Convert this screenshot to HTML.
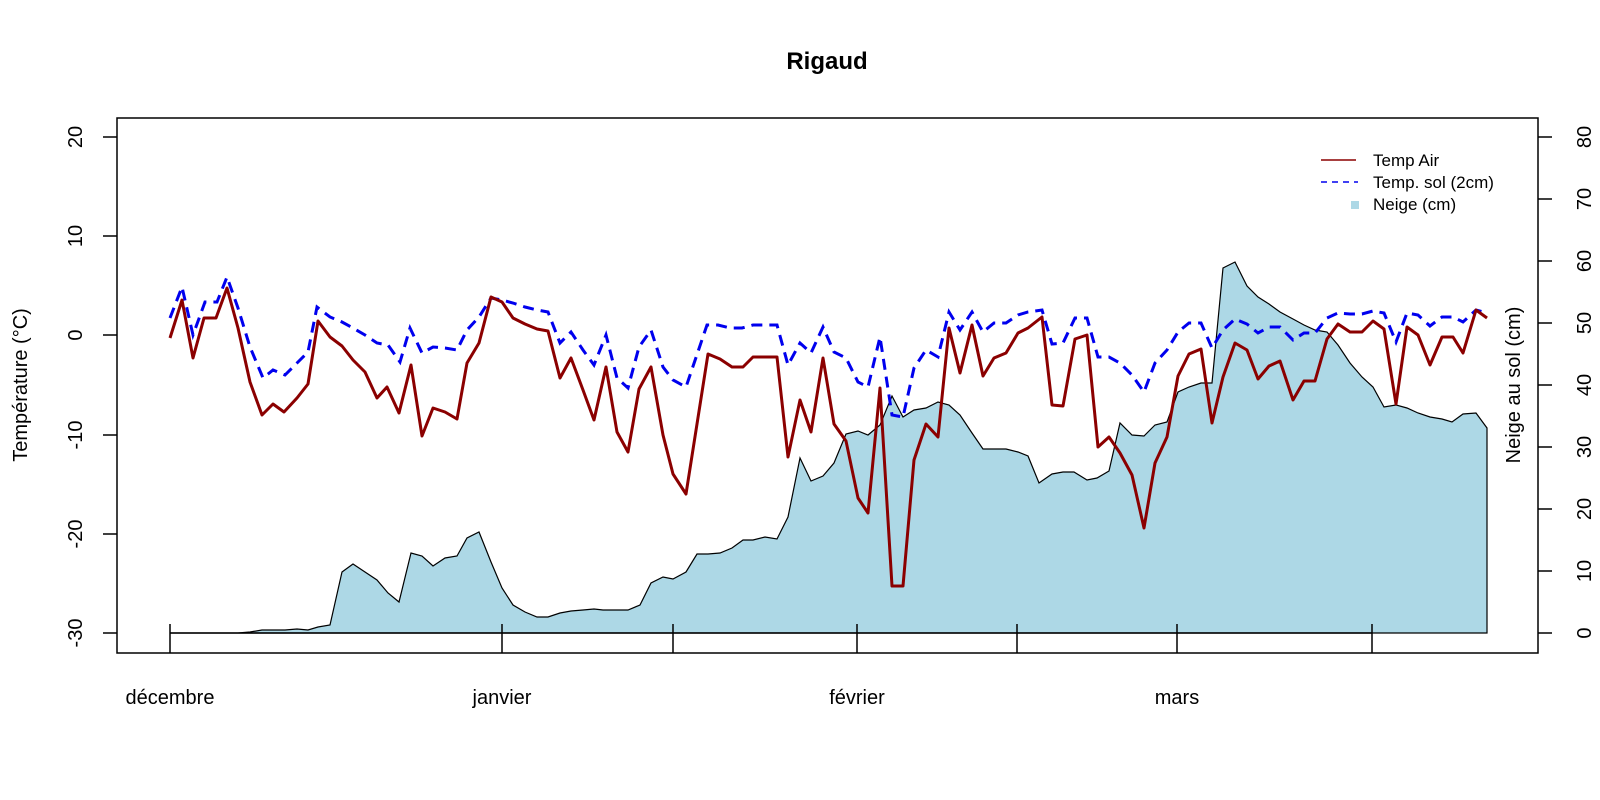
<!DOCTYPE html>
<html><head><meta charset="utf-8"><style>html,body{margin:0;padding:0;background:#fff}svg{display:block}</style></head>
<body>
<svg width="1600" height="800" viewBox="0 0 1600 800" xmlns="http://www.w3.org/2000/svg" font-family="Liberation Sans, Arial, sans-serif">
<rect width="1600" height="800" fill="#fff"/>
<text x="827" y="69" font-size="24" font-weight="bold" text-anchor="middle">Rigaud</text>
<!-- snow -->
<polygon fill="#add8e6" stroke="#000" stroke-width="1.2" points="170,633 182,633 193,633 205,633 217,633 227,633 238,633 250,632 262,630 273,630 285,630 297,629 308,630 318,627 330,625 342,572 353,564 365,572 377,580 388,593 399,602 411,553 422,556 433,566 445,558 457,556 467,538 479,532 491,562 502,588 513,605 525,612 537,617 548,617 560,613 571,611 583,610 594,609 603,610 617,610 628,610 640,605 651,583 663,577 673,579 686,572 697,554 708,554 720,553 732,548 743,540 753,540 765,537 777,539 788,517 800,458 811,481 823,476 834,463 846,434 858,431 868,435 880,425 892,396 903,417 914,410 926,408 938,402 949,405 960,415 972,433 983,449 994,449 1006,449 1018,452 1028,456 1039,483 1052,474 1063,472 1074,472 1087,480 1097,478 1109,471 1120,423 1132,435 1144,436 1155,425 1167,422 1178,392 1189,387 1201,383 1212,383 1223,268 1235,262 1247,286 1258,297 1269,304 1280,312 1293,319 1304,325 1315,330 1327,332 1338,345 1350,363 1362,377 1373,387 1384,407 1396,405 1407,408 1418,413 1430,417 1442,419 1452,422 1463,414 1476,413 1487,428 1487,633"/>
<!-- blue dashed -->
<polyline fill="none" stroke="#0000ee" stroke-width="3" stroke-dasharray="11,7" points="170,318 182,287 193,335 205,302 217,302 227,277 238,308 250,347 263,378 273,370 285,375 297,363 308,352 317,307 330,317 342,322 353,328 365,335 377,343 388,345 400,362 410,328 422,353 433,347 445,348 457,350 467,330 479,317 491,298 502,300 513,303 525,307 537,310 548,312 560,343 571,332 583,350 594,365 606,335 617,378 628,388 639,347 651,330 663,367 673,380 686,387 707,325 718,325 730,328 742,328 753,325 765,325 777,325 788,365 800,343 811,353 823,327 834,352 846,358 858,382 868,387 880,337 892,415 903,417 914,368 926,350 938,357 949,312 960,330 972,312 983,332 994,323 1006,323 1018,315 1028,312 1042,310 1052,344 1063,343 1075,318 1087,318 1098,357 1109,357 1120,363 1132,375 1144,392 1155,363 1167,350 1178,332 1189,323 1201,323 1212,348 1223,330 1235,319 1247,324 1258,333 1269,327 1280,327 1293,340 1304,333 1315,333 1327,318 1338,313 1350,314 1362,314 1373,311 1384,313 1396,342 1407,313 1418,315 1430,326 1442,317 1453,317 1463,322 1476,310 1487,313"/>
<!-- red -->
<polyline fill="none" stroke="#8b0000" stroke-width="3" stroke-linejoin="round" points="170,338 182,300 193,358 204,318 216,318 227,288 238,328 250,382 262,415 273,404 284,412 297,398 308,384 318,321 330,337 342,346 353,360 365,372 377,398 387,387 399,413 411,365 422,436 433,408 445,412 457,419 467,363 479,343 491,297 502,302 513,318 525,324 537,329 548,331 560,378 571,358 583,390 594,420 606,367 617,432 628,452 639,389 651,367 663,435 673,474 686,494 708,354 720,359 732,367 743,367 753,357 765,357 777,357 788,457 800,400 811,432 823,358 834,424 846,441 858,498 868,513 880,388 892,586 903,586 914,460 926,424 938,437 949,328 960,373 972,325 983,376 994,358 1006,353 1018,333 1028,328 1042,317 1052,405 1063,406 1075,339 1087,335 1098,447 1109,437 1120,453 1132,475 1144,528 1155,463 1167,437 1178,376 1189,354 1201,349 1212,423 1223,377 1235,343 1247,350 1258,379 1269,366 1280,361 1293,400 1304,381 1315,381 1327,339 1338,324 1350,332 1362,332 1373,321 1384,329 1396,404 1407,327 1418,335 1430,365 1442,337 1453,337 1463,353 1476,310 1487,318"/>
<!-- frame -->
<rect x="117" y="118" width="1421" height="535" fill="none" stroke="#000" stroke-width="1.5"/>
<!-- bottom axis -->
<g stroke="#000" stroke-width="1.5">
<line x1="170" y1="633" x2="1372" y2="633"/>
<line x1="170" y1="624" x2="170" y2="653"/><line x1="502" y1="624" x2="502" y2="653"/><line x1="673" y1="624" x2="673" y2="653"/><line x1="857" y1="624" x2="857" y2="653"/><line x1="1017" y1="624" x2="1017" y2="653"/><line x1="1177" y1="624" x2="1177" y2="653"/><line x1="1372" y1="624" x2="1372" y2="653"/>
<!-- left ticks -->
<line x1="103" y1="137" x2="117" y2="137"/><line x1="103" y1="236" x2="117" y2="236"/><line x1="103" y1="335" x2="117" y2="335"/><line x1="103" y1="435" x2="117" y2="435"/><line x1="103" y1="534" x2="117" y2="534"/><line x1="103" y1="633" x2="117" y2="633"/>
<!-- right ticks -->
<line x1="1538" y1="137" x2="1552" y2="137"/><line x1="1538" y1="199" x2="1552" y2="199"/><line x1="1538" y1="261" x2="1552" y2="261"/><line x1="1538" y1="323" x2="1552" y2="323"/><line x1="1538" y1="385" x2="1552" y2="385"/><line x1="1538" y1="447" x2="1552" y2="447"/><line x1="1538" y1="509" x2="1552" y2="509"/><line x1="1538" y1="571" x2="1552" y2="571"/><line x1="1538" y1="633" x2="1552" y2="633"/>
</g>
<g font-size="20" text-anchor="middle">
<text x="170" y="704">décembre</text><text x="502" y="704">janvier</text><text x="857" y="704">février</text><text x="1177" y="704">mars</text>
</g>
<g font-size="20" text-anchor="middle">
<text transform="translate(82,137) rotate(-90)">20</text>
<text transform="translate(82,236) rotate(-90)">10</text>
<text transform="translate(82,335) rotate(-90)">0</text>
<text transform="translate(82,435) rotate(-90)">-10</text>
<text transform="translate(82,534) rotate(-90)">-20</text>
<text transform="translate(82,633) rotate(-90)">-30</text>
<text transform="translate(27,385) rotate(-90)">Température (°C)</text>
<text transform="translate(1520,385) rotate(-90)">Neige au sol (cm)</text>
<text transform="translate(1591,137) rotate(-90)">80</text>
<text transform="translate(1591,199) rotate(-90)">70</text>
<text transform="translate(1591,261) rotate(-90)">60</text>
<text transform="translate(1591,323) rotate(-90)">50</text>
<text transform="translate(1591,385) rotate(-90)">40</text>
<text transform="translate(1591,447) rotate(-90)">30</text>
<text transform="translate(1591,509) rotate(-90)">20</text>
<text transform="translate(1591,571) rotate(-90)">10</text>
<text transform="translate(1591,633) rotate(-90)">0</text>
</g>
<!-- legend -->
<line x1="1321" y1="160" x2="1356" y2="160" stroke="#8b0000" stroke-width="1.5"/>
<line x1="1321" y1="182" x2="1358" y2="182" stroke="#0000ee" stroke-width="1.5" stroke-dasharray="6,5"/>
<rect x="1351" y="201" width="8" height="8" fill="#add8e6"/>
<g font-size="17">
<text x="1373" y="166">Temp Air</text>
<text x="1373" y="188">Temp. sol (2cm)</text>
<text x="1373" y="210">Neige (cm)</text>
</g>
</svg>
</body></html>
